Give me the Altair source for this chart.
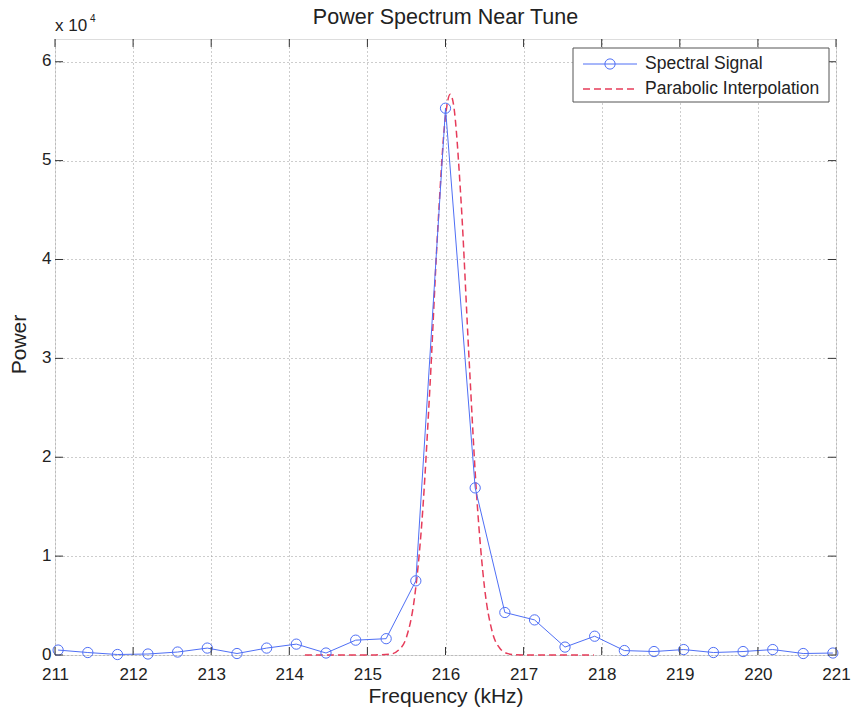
import altair as alt
import pandas as pd

# ---- data (power in units of 10^4) ----
freq = [211.04, 211.42, 211.80, 212.19, 212.57, 212.95, 213.33, 213.71, 214.09,
        214.47, 214.85, 215.24, 215.62, 216.00, 216.38, 216.76, 217.14, 217.53,
        217.91, 218.29, 218.67, 219.05, 219.43, 219.81, 220.19, 220.58, 220.96]
power = [0.05, 0.025, 0.005, 0.01, 0.03, 0.07, 0.015, 0.07, 0.11,
         0.02, 0.15, 0.165, 0.75, 5.53, 1.69, 0.43, 0.355, 0.08,
         0.19, 0.045, 0.035, 0.055, 0.025, 0.035, 0.055, 0.015, 0.02]

interp_freq = [214.20, 214.80, 215.10, 215.30, 215.40, 215.50, 215.60, 215.70,
               215.80, 215.90, 216.00, 216.06, 216.10, 216.20, 216.30, 216.40,
               216.50, 216.60, 216.70, 216.80, 216.90, 217.10, 217.90]
interp_power = [0.0, 0.0, 0.001, 0.01, 0.05, 0.18, 0.56, 1.37,
                2.70, 4.29, 5.45, 5.67, 5.58, 4.58, 3.02, 1.60,
                0.68, 0.23, 0.064, 0.014, 0.002, 0.0, 0.0]

x_ticks = [211, 212, 213, 214, 215, 216, 217, 218, 219, 220, 221]
y_ticks = [0, 1, 2, 3, 4, 5, 6]

title_text = "Power Spectrum Near Tune"
x_title = "Frequency (kHz)"
y_title = "Power"
legend_labels = ["Spectral Signal", "Parabolic Interpolation"]

# ---- styling ----
W, H = 781, 616
FONT = "Liberation Sans"
BLUE = "#4f6ff5"
RED = "#e63c5a"
INK = "#222222"

xscale = alt.Scale(domain=[211, 221], nice=False, zero=False)
yscale = alt.Scale(domain=[0, 6.23], nice=False, zero=True)

xaxis = alt.Axis(values=x_ticks, format="d", grid=True, gridDash=[1, 3],
                 gridColor="#9a9a9a", gridWidth=1, domain=False, ticks=False,
                 tickSize=0, labelFont=FONT, labelFontSize=17, labelColor=INK,
                 labelPadding=11, labelFlush=False, labelOverlap=False,
                 title=x_title, titleFont=FONT, titleFontSize=21,
                 titleFontWeight="normal", titleColor=INK,
                 titleBaseline="alphabetic", titleAlign="center",
                 titleX=W / 2, titleY=47)
yaxis = alt.Axis(values=y_ticks, format="d", grid=True, gridDash=[1, 3],
                 gridColor="#9a9a9a", gridWidth=1, domain=False, ticks=False,
                 tickSize=0, labelFont=FONT, labelFontSize=17, labelColor=INK,
                 labelPadding=4, labelOffset=-1, labelFlush=False, labelOverlap=False,
                 title=y_title, titleFont=FONT, titleFontSize=21,
                 titleFontWeight="normal", titleColor=INK, titleAngle=270,
                 titleBaseline="alphabetic", titleAlign="center",
                 titleX=-30, titleY=H / 2 - 3)

X = alt.X("freq:Q", scale=xscale, axis=xaxis)
Y = alt.Y("power:Q", scale=yscale, axis=yaxis)

sig = pd.DataFrame({"freq": freq, "power": power})
fit = pd.DataFrame({"freq": interp_freq, "power": interp_power})
xt = pd.DataFrame({"freq": x_ticks})
yt = pd.DataFrame({"power": y_ticks})
one = pd.DataFrame({"a": [0]})

sig_line = alt.Chart(sig).mark_line(color=BLUE, strokeWidth=1).encode(x=X, y=Y)
sig_pts = alt.Chart(sig).mark_point(shape="circle", filled=False, color=BLUE,
                                    size=105, strokeWidth=1, opacity=1).encode(x=X, y=Y)
fit_line = alt.Chart(fit).mark_line(color=RED, strokeWidth=1.5, strokeDash=[7, 4],
                                    interpolate="monotone").encode(x=X, y=Y)

# inward ticks on all four sides
tick_b = alt.Chart(xt).mark_rule(color="#333", strokeWidth=1).encode(
    x=X, y=alt.value(H), y2=alt.value(H - 8))
tick_t = alt.Chart(xt).mark_rule(color="#333", strokeWidth=1).encode(
    x=X, y=alt.value(0), y2=alt.value(8))
tick_l = alt.Chart(yt).mark_rule(color="#333", strokeWidth=1).encode(
    y=Y, x=alt.value(0), x2=alt.value(8))
tick_r = alt.Chart(yt).mark_rule(color="#333", strokeWidth=1).encode(
    y=Y, x=alt.value(W), x2=alt.value(W - 8))

# legend box
leg_box = alt.Chart(one).mark_rect(fill="white", stroke="#555", strokeWidth=1).encode(
    x=alt.value(518), x2=alt.value(774), y=alt.value(9), y2=alt.value(63))
leg_l1 = alt.Chart(one).mark_rule(color=BLUE, strokeWidth=1).encode(
    x=alt.value(528), x2=alt.value(582), y=alt.value(25))
leg_p1 = alt.Chart(one).mark_point(shape="circle", filled=False, color=BLUE,
                                   size=105, strokeWidth=1, opacity=1).encode(
    x=alt.value(555), y=alt.value(25))
leg_l2 = alt.Chart(one).mark_rule(color=RED, strokeWidth=1.5, strokeDash=[7, 4]).encode(
    x=alt.value(528), x2=alt.value(582), y=alt.value(50))
leg_t1 = alt.Chart(one).mark_text(font=FONT, fontSize=17.5, color=INK, align="left",
                                  baseline="middle").encode(
    x=alt.value(590), y=alt.value(25), text=alt.value(legend_labels[0]))
leg_t2 = alt.Chart(one).mark_text(font=FONT, fontSize=17.5, color=INK, align="left",
                                  baseline="middle").encode(
    x=alt.value(590), y=alt.value(50), text=alt.value(legend_labels[1]))

# title and exponent label
title = alt.Chart(one).mark_text(font=FONT, fontSize=21.5, color=INK, align="center",
                                 baseline="alphabetic").encode(
    x=alt.value(W / 2), y=alt.value(-15), text=alt.value(title_text))
exp_base = alt.Chart(one).mark_text(font=FONT, fontSize=17, color=INK, align="left",
                                    baseline="alphabetic").encode(
    x=alt.value(0), y=alt.value(-8), text=alt.value("x 10"))
exp_sup = alt.Chart(one).mark_text(font=FONT, fontSize=10, color=INK, align="left",
                                   baseline="alphabetic").encode(
    x=alt.value(35), y=alt.value(-17), text=alt.value("4"))

chart = alt.layer(
    fit_line, sig_line, sig_pts,
    tick_b, tick_t, tick_l, tick_r,
    leg_box, leg_l1, leg_p1, leg_l2, leg_t1, leg_t2,
    title, exp_base, exp_sup,
).properties(
    width=W, height=H,
    autosize=alt.AutoSizeParams(type="none"),
    padding={"left": 55, "top": 39, "right": 16, "bottom": 53},
).configure_view(
    stroke="#333", strokeWidth=1
).configure(background="white")

chart.save("out.html", embed_options={"renderer": "svg", "actions": False})
